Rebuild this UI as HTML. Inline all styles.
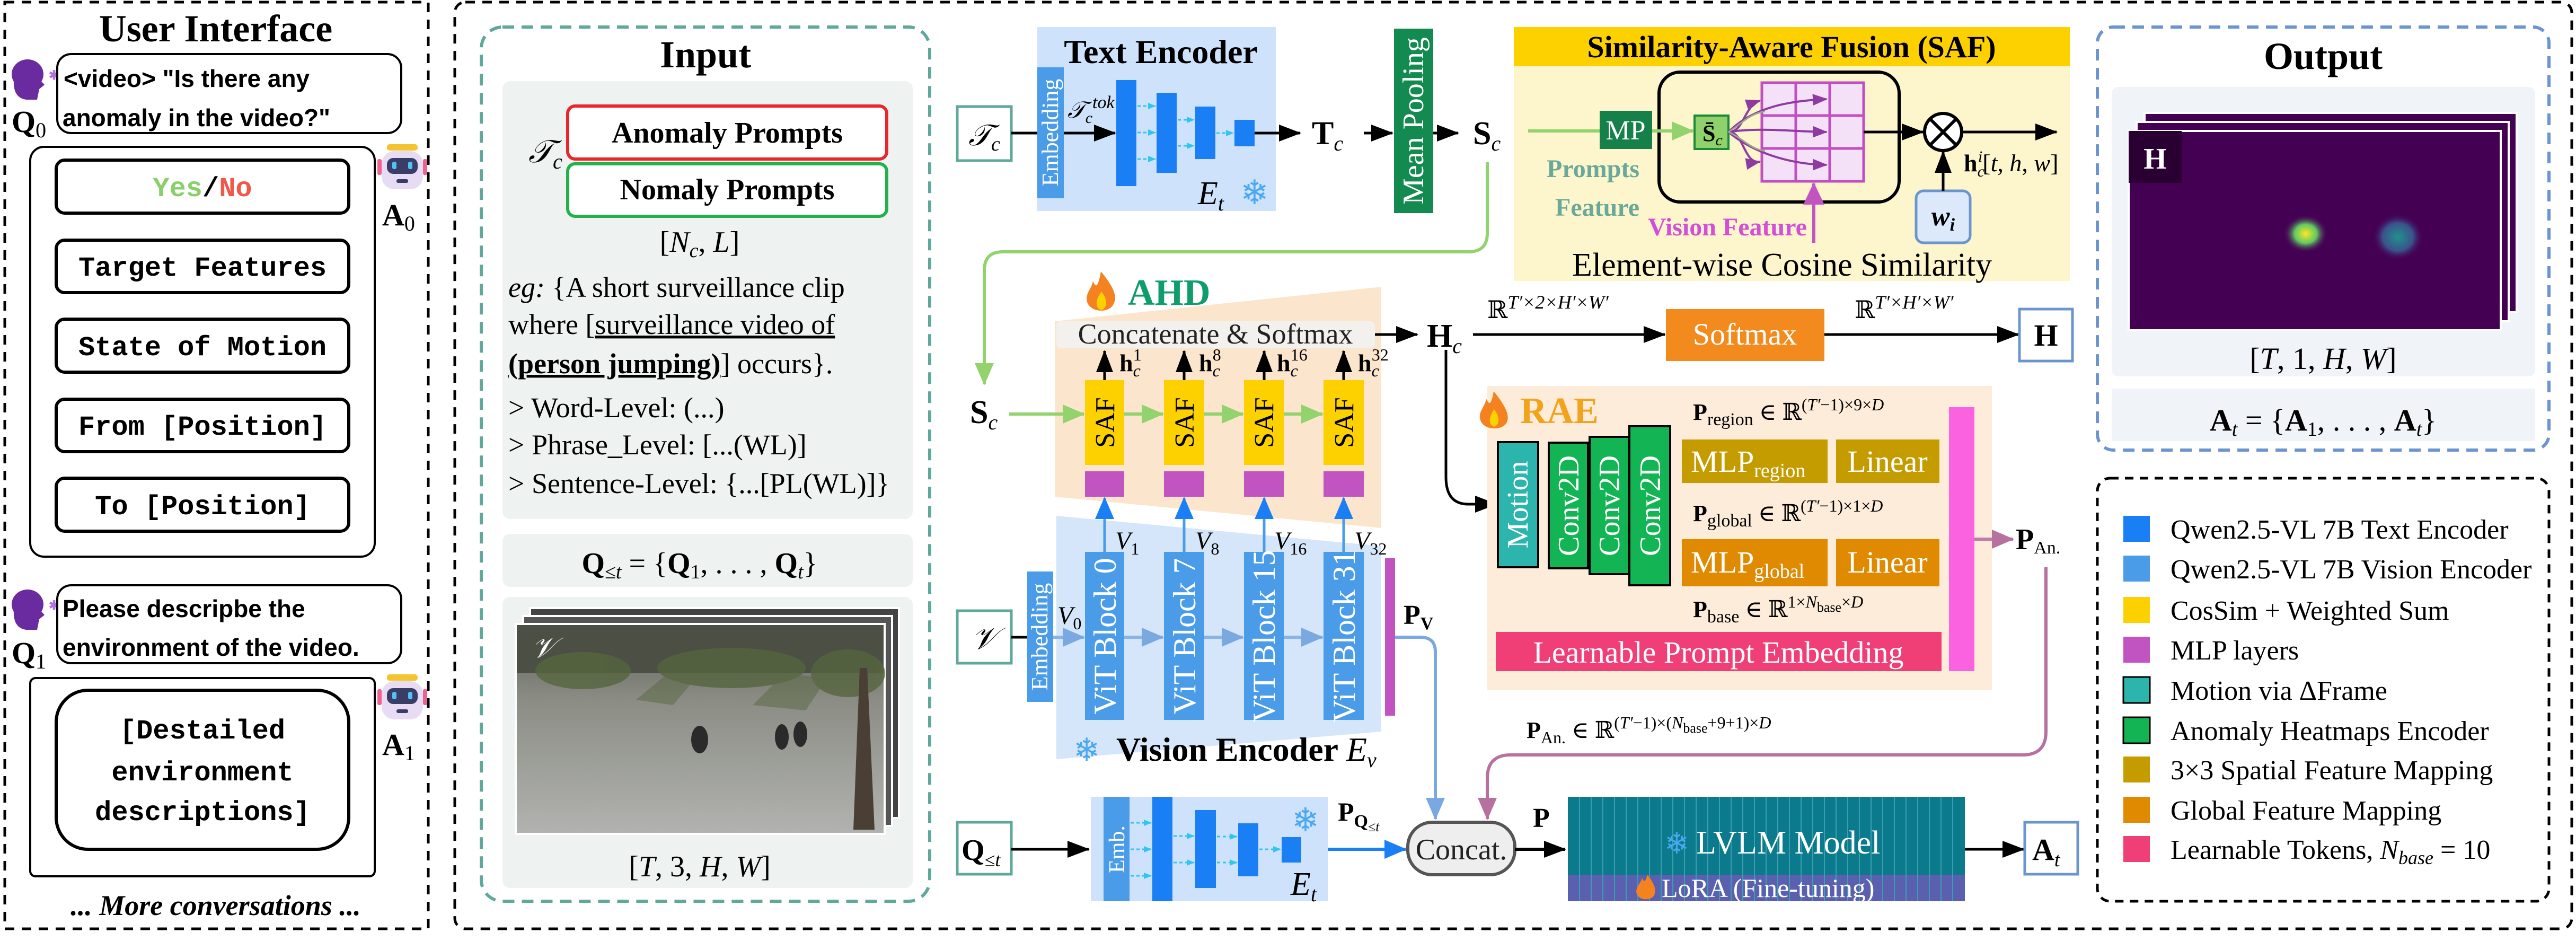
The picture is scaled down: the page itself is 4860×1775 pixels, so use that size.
<!DOCTYPE html>
<html><head><meta charset="utf-8"><style>
html,body{margin:0;padding:0;background:#fff}
svg{display:block}
text{font-family:"Liberation Serif","DejaVu Serif",serif}
.m, .m text, text.m{font-family:"Liberation Mono",monospace;font-weight:bold}
.c, text.c{font-family:"Liberation Sans","DejaVu Sans",sans-serif;font-weight:bold}
.b{font-weight:bold}
.i{font-style:italic}
</style></head><body>
<svg width="4860" height="1775" viewBox="0 0 4860 1775" xmlns="http://www.w3.org/2000/svg">
<defs>
<marker id="ak" markerUnits="userSpaceOnUse" markerWidth="44" markerHeight="36" refX="40" refY="18" orient="auto"><path d="M0,2 L42,18 L0,34 Z" fill="#000"/></marker>
<marker id="ag" markerUnits="userSpaceOnUse" markerWidth="44" markerHeight="40" refX="40" refY="20" orient="auto"><path d="M0,2 L42,20 L0,38 Z" fill="#92d36e"/></marker>
<marker id="ab" markerUnits="userSpaceOnUse" markerWidth="44" markerHeight="40" refX="40" refY="20" orient="auto"><path d="M0,2 L42,20 L0,38 Z" fill="#1a7ff5"/></marker>
<marker id="alb" markerUnits="userSpaceOnUse" markerWidth="44" markerHeight="40" refX="40" refY="20" orient="auto"><path d="M0,2 L42,20 L0,38 Z" fill="#7aa8e0"/></marker>
<marker id="ap" markerUnits="userSpaceOnUse" markerWidth="44" markerHeight="40" refX="40" refY="20" orient="auto"><path d="M0,2 L42,20 L0,38 Z" fill="#b8709f"/></marker>
<marker id="am" markerUnits="userSpaceOnUse" markerWidth="44" markerHeight="44" refX="40" refY="22" orient="auto"><path d="M0,2 L42,22 L0,42 Z" fill="#c254c2"/></marker>
<marker id="av" markerUnits="userSpaceOnUse" markerWidth="30" markerHeight="26" refX="26" refY="13" orient="auto"><path d="M0,2 L28,13 L0,24 Z" fill="#8e3aa0"/></marker>
<marker id="ac" markerUnits="userSpaceOnUse" markerWidth="16" markerHeight="14" refX="14" refY="7" orient="auto"><path d="M0,1 L15,7 L0,13 Z" fill="#2fc6f0"/></marker>
<linearGradient id="vid" x1="0" y1="0" x2="0" y2="1"><stop offset="0" stop-color="#5a5e55"/><stop offset="0.35" stop-color="#8a8c84"/><stop offset="1" stop-color="#b2b3b0"/></linearGradient>
<radialGradient id="bl1"><stop offset="0" stop-color="#fde725"/><stop offset="0.5" stop-color="#5ec962"/><stop offset="1" stop-color="#440154" stop-opacity="0"/></radialGradient>
<radialGradient id="bl2"><stop offset="0" stop-color="#21918c"/><stop offset="0.6" stop-color="#3b528b"/><stop offset="1" stop-color="#440154" stop-opacity="0"/></radialGradient>
</defs>

<!-- ================= USER INTERFACE ================= -->
<rect x="9" y="4" width="799" height="1748" fill="none" stroke="#000" stroke-width="5" stroke-dasharray="18,14"/>
<text x="407" y="78" font-size="72" text-anchor="middle" class="b">User Interface</text>

<g fill="#6a2aa0"><ellipse cx="52" cy="140" rx="30" ry="28"/><path d="M26,150 Q24,185 50,188 L70,188 L74,168 L84,160 L66,140 Z"/></g>
<text x="92" y="150" font-size="24" fill="#b070e0" class="b">✱</text>
<text x="22" y="249" font-size="58" class="b">Q<tspan font-size="40" font-weight="normal" dy="10">0</tspan></text>
<rect x="108" y="102" width="649" height="149" rx="26" fill="#fff" stroke="#000" stroke-width="4"/>
<text x="120" y="164" font-size="46" class="c">&lt;video&gt; "Is there any</text>
<text x="118" y="238" font-size="46" class="c">anomaly in the video?"</text>

<rect x="57" y="277" width="650" height="773" rx="26" fill="#fff" stroke="#000" stroke-width="4"/>
<g fill="#fff" stroke="#000" stroke-width="6">
<rect x="106" y="302" width="552" height="100" rx="16"/>
<rect x="106" y="453" width="552" height="99" rx="16"/>
<rect x="106" y="602" width="552" height="100" rx="16"/>
<rect x="106" y="753" width="552" height="99" rx="16"/>
<rect x="106" y="902" width="552" height="100" rx="16"/>
</g>
<g class="m" font-size="52" text-anchor="middle">
<text x="382" y="370"><tspan fill="#8acf6a">Yes</tspan>/<tspan fill="#f0584a">No</tspan></text>
<text x="382" y="520">Target Features</text>
<text x="382" y="670">State of Motion</text>
<text x="382" y="820">From [Position]</text>
<text x="382" y="970">To [Position]</text>
</g>
<g><rect x="730" y="272" width="58" height="12" rx="5" fill="#f4c430"/><rect x="720" y="285" width="78" height="72" rx="24" fill="#e8dcf5"/><rect x="730" y="298" width="58" height="30" rx="12" fill="#3a3d66"/><rect x="740" y="305" width="8" height="14" rx="3" fill="#4fc3f7"/><rect x="770" y="305" width="8" height="14" rx="3" fill="#4fc3f7"/><rect x="748" y="338" width="22" height="7" rx="3" fill="#3a3d66"/><rect x="712" y="300" width="8" height="30" rx="3" fill="#f06090"/><rect x="798" y="300" width="8" height="30" rx="3" fill="#f06090"/></g>
<text x="721" y="425" font-size="58" class="b">A<tspan font-size="40" font-weight="normal" dy="10">0</tspan></text>

<g fill="#6a2aa0"><ellipse cx="52" cy="1140" rx="30" ry="28"/><path d="M26,1150 Q24,1185 50,1188 L70,1188 L74,1168 L84,1160 L66,1140 Z"/></g>
<text x="92" y="1150" font-size="24" fill="#b070e0" class="b">✱</text>
<text x="22" y="1251" font-size="58" class="b">Q<tspan font-size="40" font-weight="normal" dy="10">1</tspan></text>
<rect x="108" y="1104" width="649" height="147" rx="26" fill="#fff" stroke="#000" stroke-width="4"/>
<text x="118" y="1164" font-size="46" class="c">Please descripbe the</text>
<text x="118" y="1237" font-size="46" class="c">environment of the video.</text>

<rect x="57" y="1279" width="650" height="374" rx="10" fill="#fff" stroke="#000" stroke-width="4"/>
<rect x="106" y="1302" width="552" height="300" rx="60" fill="#fff" stroke="#000" stroke-width="6"/>
<g class="m" font-size="52" text-anchor="middle">
<text x="382" y="1393">[Destailed</text>
<text x="382" y="1472">environment</text>
<text x="382" y="1547">descriptions]</text>
</g>
<g><rect x="730" y="1272" width="58" height="12" rx="5" fill="#f4c430"/><rect x="720" y="1285" width="78" height="72" rx="24" fill="#e8dcf5"/><rect x="730" y="1298" width="58" height="30" rx="12" fill="#3a3d66"/><rect x="740" y="1305" width="8" height="14" rx="3" fill="#4fc3f7"/><rect x="770" y="1305" width="8" height="14" rx="3" fill="#4fc3f7"/><rect x="748" y="1338" width="22" height="7" rx="3" fill="#3a3d66"/><rect x="712" y="1300" width="8" height="30" rx="3" fill="#f06090"/><rect x="798" y="1300" width="8" height="30" rx="3" fill="#f06090"/></g>
<text x="721" y="1424" font-size="58" class="b">A<tspan font-size="40" font-weight="normal" dy="10">1</tspan></text>
<text x="407" y="1726" font-size="54" text-anchor="middle" class="b i">... More conversations ...</text>

<!-- ================= MAIN PANEL ================= -->
<rect x="858" y="4" width="3994" height="1748" rx="20" fill="none" stroke="#000" stroke-width="5" stroke-dasharray="18,14"/>

<rect x="908" y="51" width="846" height="1649" rx="40" fill="none" stroke="#5fa89a" stroke-width="6" stroke-dasharray="22,14"/>
<text x="1331" y="127" font-size="72" text-anchor="middle" class="b">Input</text>
<rect x="948" y="153" width="774" height="826" rx="14" fill="#eef3f2"/>
<text x="997" y="306" font-size="60" class="i">𝒯<tspan font-size="40" dy="12">c</tspan></text>
<rect x="1071" y="200" width="602" height="100" rx="14" fill="#fff" stroke="#e8262b" stroke-width="6"/>
<rect x="1071" y="309" width="602" height="99" rx="14" fill="#fff" stroke="#22b14c" stroke-width="6"/>
<text x="1372" y="269" font-size="56" text-anchor="middle" class="b">Anomaly Prompts</text>
<text x="1372" y="376" font-size="56" text-anchor="middle" class="b">Nomaly Prompts</text>
<text x="1320" y="475" font-size="56" text-anchor="middle">[<tspan class="i">N</tspan><tspan class="i" font-size="38" dy="10">c</tspan><tspan dy="-10">, </tspan><tspan class="i">L</tspan>]</text>
<g font-size="54">
<text x="959" y="560"><tspan class="i">eg:</tspan> {A short surveillance clip</text>
<text x="959" y="630">where [<tspan text-decoration="underline">surveillance video of</tspan></text>
<text x="959" y="704"><tspan text-decoration="underline" class="b">(person jumping)</tspan>] occurs}.</text>
<text x="959" y="787">&gt; Word-Level: (...)</text>
<text x="959" y="857">&gt; Phrase_Level: [...(WL)]</text>
<text x="959" y="930">&gt; Sentence-Level: {...[PL(WL)]}</text>
</g>
<rect x="948" y="1007" width="774" height="100" rx="14" fill="#eef3f2"/>
<text x="1320" y="1081" font-size="56" text-anchor="middle"><tspan class="b">Q</tspan><tspan font-size="38" dy="10" class="i">≤t</tspan><tspan dy="-10"> = {</tspan><tspan class="b">Q</tspan><tspan font-size="38" dy="10">1</tspan><tspan dy="-10">, . . . , </tspan><tspan class="b">Q</tspan><tspan font-size="38" dy="10" class="i">t</tspan><tspan dy="-10">}</tspan></text>
<rect x="948" y="1126" width="774" height="549" rx="14" fill="#eef3f2"/>
<rect x="1000" y="1147" width="696" height="396" fill="#444" stroke="#fff" stroke-width="4"/>
<rect x="987" y="1162" width="696" height="396" fill="#555" stroke="#fff" stroke-width="4"/>
<rect x="973" y="1177" width="696" height="396" fill="url(#vid)" stroke="#fff" stroke-width="4"/>
<rect x="975" y="1179" width="692" height="90" fill="#4b4f44"/>
<g fill="#56653e" opacity="0.8">
<ellipse cx="1100" cy="1265" rx="90" ry="35"/><ellipse cx="1380" cy="1260" rx="140" ry="38"/><ellipse cx="1600" cy="1270" rx="70" ry="45"/>
<path d="M1200,1320 L1260,1270 L1320,1270 L1270,1330 Z" opacity="0.6"/><path d="M1420,1330 L1480,1270 L1560,1280 L1520,1340 Z" opacity="0.6"/>
</g>
<path d="M1610,1565 L1622,1260 L1636,1260 L1650,1565 Z" fill="#4a3f34"/>
<g fill="#2a2a2a"><ellipse cx="1320" cy="1395" rx="16" ry="26"/><ellipse cx="1475" cy="1390" rx="13" ry="24"/><ellipse cx="1510" cy="1385" rx="13" ry="24"/></g>
<text x="1003" y="1240" font-size="54" fill="#fff" class="i">𝒱</text>
<text x="1320" y="1653" font-size="56" text-anchor="middle">[<tspan class="i">T</tspan>, 3, <tspan class="i">H</tspan>, <tspan class="i">W</tspan>]</text>

<!-- TEXT ENCODER -->
<rect x="1806" y="201" width="102" height="102" fill="#fff" stroke="#5fa89a" stroke-width="5"/>
<text x="1857" y="274" font-size="56" text-anchor="middle" class="i">𝒯<tspan font-size="38" dy="10">c</tspan></text>
<rect x="1957" y="51" width="450" height="347" fill="#cfe2fb"/>
<text x="2190" y="119" font-size="64" text-anchor="middle" class="b">Text Encoder</text>
<rect x="1957" y="127" width="50" height="247" fill="#4a9be8"/>
<text transform="translate(1996,250) rotate(-90)" font-size="44" fill="#fff" text-anchor="middle">Embedding</text>
<line x1="1908" y1="251" x2="1957" y2="251" stroke="#000" stroke-width="5"/>
<line x1="2007" y1="251" x2="2104" y2="251" stroke="#000" stroke-width="5" marker-end="url(#ak)"/>
<text x="2014" y="222" font-size="44" class="i">𝒯<tspan font-size="30" dy="10">c</tspan><tspan font-size="34" dy="-28">tok</tspan></text>
<g fill="#1a7ff5"><rect x="2106" y="151" width="38" height="200"/><rect x="2182" y="175" width="38" height="151"/><rect x="2255" y="201" width="38" height="99"/><rect x="2329" y="226" width="38" height="50"/></g>
<g stroke="#2fc6f0" stroke-width="3" stroke-dasharray="6,5" marker-end="url(#ac)">
<line x1="2146" y1="200" x2="2180" y2="200"/><line x1="2146" y1="250" x2="2180" y2="250"/><line x1="2146" y1="300" x2="2180" y2="300"/>
<line x1="2222" y1="226" x2="2253" y2="226"/><line x1="2222" y1="275" x2="2253" y2="275"/>
<line x1="2295" y1="251" x2="2327" y2="251"/>
</g>
<text x="2260" y="385" font-size="62" class="i">E<tspan font-size="40" dy="12">t</tspan></text>
<text x="2340" y="385" font-size="64" fill="#4aa8f0">❄</text>
<line x1="2367" y1="251" x2="2453" y2="251" stroke="#000" stroke-width="5" marker-end="url(#ak)"/>
<text x="2475" y="272" font-size="62" class="b">T<tspan font-size="40" dy="12" class="i" font-weight="normal">c</tspan></text>
<line x1="2573" y1="251" x2="2627" y2="251" stroke="#000" stroke-width="5" marker-end="url(#ak)"/>
<rect x="2630" y="54" width="74" height="348" fill="#138a4f"/>
<text transform="translate(2685,228) rotate(-90)" font-size="56" fill="#fff" text-anchor="middle">Mean Pooling</text>
<line x1="2704" y1="251" x2="2751" y2="251" stroke="#000" stroke-width="5" marker-end="url(#ak)"/>
<text x="2779" y="272" font-size="62" class="b">S<tspan font-size="40" dy="12" class="i" font-weight="normal">c</tspan></text>
<path d="M2806,306 L2806,440 Q2806,475 2770,475 L1892,475 Q1857,475 1857,510 L1857,725" fill="none" stroke="#92d36e" stroke-width="6" marker-end="url(#ag)"/>

<!-- SAF PANEL -->
<rect x="2856" y="51" width="1049" height="479" fill="#fdf5cc"/>
<rect x="2856" y="51" width="1049" height="74" fill="#fdd000"/>
<text x="3380" y="108" font-size="58" text-anchor="middle" class="b">Similarity-Aware Fusion (SAF)</text>
<rect x="3130" y="136" width="453" height="245" rx="40" fill="none" stroke="#000" stroke-width="6"/>
<line x1="2883" y1="247" x2="3018" y2="247" stroke="#92d36e" stroke-width="6"/>
<rect x="3018" y="209" width="99" height="72" fill="#15804a"/>
<text x="3067" y="263" font-size="52" fill="#fff" text-anchor="middle">MP</text>
<line x1="3117" y1="247" x2="3194" y2="247" stroke="#92d36e" stroke-width="6" marker-end="url(#ag)"/>
<rect x="3197" y="218" width="64" height="63" fill="#8fd16a" stroke="#1a8a3a" stroke-width="4"/>
<text x="3212" y="266" font-size="44" class="b">S̄<tspan font-size="30" dy="8" class="i" font-weight="normal">c</tspan></text>
<g fill="#f5e1f7" stroke="#c04fc4" stroke-width="5">
<rect x="3324" y="156" width="64" height="62"/><rect x="3388" y="156" width="64" height="62"/><rect x="3452" y="156" width="64" height="62"/>
<rect x="3324" y="218" width="64" height="62"/><rect x="3388" y="218" width="64" height="62"/><rect x="3452" y="218" width="64" height="62"/>
<rect x="3324" y="280" width="64" height="62"/><rect x="3388" y="280" width="64" height="62"/><rect x="3452" y="280" width="64" height="62"/>
</g>
<g fill="none" stroke="#8e3aa0" stroke-width="4" marker-end="url(#av)">
<path d="M3261,249 C3290,250 3290,200 3320,190"/>
<path d="M3261,249 C3290,248 3290,310 3320,305"/>
<path d="M3261,249 C3310,200 3380,190 3446,187"/>
<path d="M3261,249 C3320,240 3380,248 3446,249"/>
<path d="M3261,249 C3310,290 3380,310 3446,311"/>
</g>
<g fill="none" stroke="#9aa88a" stroke-width="3"><path d="M3261,249 C3290,230 3300,215 3330,210"/><path d="M3261,249 C3290,262 3300,280 3330,285"/></g>
<line x1="3516" y1="249" x2="3628" y2="249" stroke="#000" stroke-width="5" marker-end="url(#ak)"/>
<circle cx="3666" cy="249" r="35" fill="#fff" stroke="#000" stroke-width="6"/>
<line x1="3641" y1="224" x2="3691" y2="274" stroke="#000" stroke-width="6"/><line x1="3691" y1="224" x2="3641" y2="274" stroke="#000" stroke-width="6"/>
<line x1="3701" y1="249" x2="3880" y2="249" stroke="#000" stroke-width="5" marker-end="url(#ak)"/>
<rect x="3615" y="360" width="102" height="98" rx="14" fill="#dce9fb" stroke="#6c95d0" stroke-width="5"/>
<text x="3666" y="425" font-size="52" text-anchor="middle" class="i b">w<tspan font-size="34" dy="10">i</tspan></text>
<line x1="3666" y1="360" x2="3666" y2="286" stroke="#000" stroke-width="5" marker-end="url(#ak)"/>
<text x="3705" y="323" font-size="46"><tspan class="b">h</tspan><tspan font-size="30" dy="10" class="i">c</tspan><tspan font-size="30" dy="-28" dx="-12" class="i">i</tspan><tspan dy="18">[</tspan><tspan class="i">t</tspan>, <tspan class="i">h</tspan>, <tspan class="i">w</tspan>]</text>
<text x="2918" y="334" font-size="48" fill="#6aa89a" class="b">Prompts</text>
<text x="2934" y="407" font-size="48" fill="#6aa89a" class="b">Feature</text>
<text x="3109" y="444" font-size="48" fill="#d44fd8" class="b">Vision Feature</text>
<line x1="3422" y1="458" x2="3422" y2="346" stroke="#c254c2" stroke-width="6" marker-end="url(#am)"/>
<text x="2966" y="520" font-size="62">Element-wise Cosine Similarity</text>

<!-- AHD -->
<path d="M2077,512 C2100,540 2110,560 2100,575 C2092,590 2060,590 2052,572 C2045,555 2060,545 2062,530 C2068,545 2072,540 2077,512 Z" fill="#f58220"/>
<path d="M2078,550 C2090,565 2090,580 2078,585 C2066,582 2066,565 2078,550 Z" fill="#fdd000"/>
<text x="2128" y="575" font-size="70" fill="#0f9d6b" class="b">AHD</text>
<polygon points="1990,606 2606,541 2606,996 1990,937" fill="#fce5cd"/>
<rect x="1993" y="606" width="601" height="51" rx="8" fill="#f3f1ee"/>
<text x="2293" y="648" font-size="54" text-anchor="middle" fill="#222">Concatenate &amp; Softmax</text>
<line x1="2594" y1="631" x2="2674" y2="631" stroke="#000" stroke-width="5" marker-end="url(#ak)"/>
<text x="2692" y="654" font-size="62" class="b">H<tspan font-size="40" dy="12" class="i" font-weight="normal">c</tspan></text>

<polygon points="1993,973 2606,1030 2606,1380 1993,1432" fill="#d6e6fa"/>
<g fill="#fdd000"><rect x="2047" y="717" width="74" height="160"/><rect x="2196" y="717" width="76" height="160"/><rect x="2347" y="717" width="75" height="160"/><rect x="2497" y="717" width="76" height="160"/></g>
<g fill="#c254c2"><rect x="2047" y="889" width="74" height="48"/><rect x="2196" y="889" width="76" height="48"/><rect x="2347" y="889" width="75" height="48"/><rect x="2497" y="889" width="76" height="48"/></g>
<g font-size="52" fill="#000" text-anchor="middle">
<text transform="translate(2102,797) rotate(-90)">SAF</text><text transform="translate(2252,797) rotate(-90)">SAF</text><text transform="translate(2402,797) rotate(-90)">SAF</text><text transform="translate(2553,797) rotate(-90)">SAF</text>
</g>
<g stroke="#000" stroke-width="5" marker-end="url(#ak)">
<line x1="2084" y1="717" x2="2084" y2="662"/><line x1="2234" y1="717" x2="2234" y2="662"/><line x1="2385" y1="717" x2="2385" y2="662"/><line x1="2535" y1="717" x2="2535" y2="662"/>
</g>
<g font-size="46">
<text x="2112" y="700"><tspan class="b">h</tspan><tspan class="i" font-size="32" dy="10">c</tspan><tspan font-size="32" dy="-30" dx="-14">1</tspan></text>
<text x="2262" y="700"><tspan class="b">h</tspan><tspan class="i" font-size="32" dy="10">c</tspan><tspan font-size="32" dy="-30" dx="-14">8</tspan></text>
<text x="2409" y="700"><tspan class="b">h</tspan><tspan class="i" font-size="32" dy="10">c</tspan><tspan font-size="32" dy="-30" dx="-14">16</tspan></text>
<text x="2562" y="700"><tspan class="b">h</tspan><tspan class="i" font-size="32" dy="10">c</tspan><tspan font-size="32" dy="-30" dx="-14">32</tspan></text>
</g>
<text x="1830" y="798" font-size="62" class="b">S<tspan font-size="40" dy="12" class="i" font-weight="normal">c</tspan></text>
<g stroke="#92d36e" stroke-width="6" marker-end="url(#ag)">
<line x1="1904" y1="781" x2="2045" y2="781"/><line x1="2121" y1="781" x2="2194" y2="781"/><line x1="2272" y1="781" x2="2345" y2="781"/><line x1="2422" y1="781" x2="2495" y2="781"/>
</g>

<g fill="#4a9be8"><rect x="2047" y="1041" width="74" height="317"/><rect x="2196" y="1041" width="76" height="317"/><rect x="2347" y="1041" width="75" height="317"/><rect x="2497" y="1041" width="76" height="317"/></g>
<g font-size="60" fill="#fff" text-anchor="middle">
<text transform="translate(2105,1200) rotate(-90)">ViT Block 0</text><text transform="translate(2255,1200) rotate(-90)">ViT Block 7</text><text transform="translate(2405,1200) rotate(-90)">ViT Block 15</text><text transform="translate(2556,1200) rotate(-90)">ViT Block 31</text>
</g>
<g stroke="#4a9be8" stroke-width="5" marker-end="url(#ab)">
<line x1="2084" y1="1041" x2="2084" y2="939"/><line x1="2234" y1="1041" x2="2234" y2="939"/><line x1="2385" y1="1041" x2="2385" y2="939"/><line x1="2535" y1="1041" x2="2535" y2="939"/>
</g>
<g font-size="48" class="i">
<text x="2104" y="1036">V<tspan font-size="32" dy="10" font-style="normal">1</tspan></text>
<text x="2255" y="1036">V<tspan font-size="32" dy="10" font-style="normal">8</tspan></text>
<text x="2404" y="1036">V<tspan font-size="32" dy="10" font-style="normal">16</tspan></text>
<text x="2555" y="1036">V<tspan font-size="32" dy="10" font-style="normal">32</tspan></text>
<text x="1995" y="1177">V<tspan font-size="32" dy="10" font-style="normal">0</tspan></text>
</g>
<g stroke="#8ab4e8" stroke-width="6" marker-end="url(#alb)">
<line x1="1987" y1="1202" x2="2045" y2="1202"/><line x1="2121" y1="1202" x2="2194" y2="1202"/><line x1="2272" y1="1202" x2="2345" y2="1202"/><line x1="2422" y1="1202" x2="2495" y2="1202"/>
</g>
<rect x="1806" y="1152" width="102" height="99" fill="#fff" stroke="#5fa89a" stroke-width="5"/>
<text x="1857" y="1224" font-size="58" text-anchor="middle" class="i">𝒱</text>
<line x1="1908" y1="1202" x2="1938" y2="1202" stroke="#000" stroke-width="5"/>
<rect x="1938" y="1078" width="49" height="246" fill="#4a9be8"/>
<text transform="translate(1976,1201) rotate(-90)" font-size="44" fill="#fff" text-anchor="middle">Embedding</text>
<rect x="2613" y="1053" width="19" height="297" fill="#c254c2"/>
<text x="2648" y="1177" font-size="52" class="b">P<tspan font-size="34" dy="10">V</tspan></text>
<path d="M2632,1202 L2680,1202 Q2708,1202 2708,1230 L2708,1545" fill="none" stroke="#7aa8e0" stroke-width="6" marker-end="url(#alb)"/>
<text x="2025" y="1435" font-size="60" fill="#4aa8f0">❄</text>
<text x="2106" y="1435" font-size="64" class="b">Vision Encoder <tspan class="i" font-weight="normal">E</tspan><tspan class="i" font-weight="normal" font-size="40" dy="12">v</tspan></text>

<!-- Bottom text encoder -->
<rect x="1806" y="1551" width="102" height="98" fill="#fff" stroke="#5fa89a" stroke-width="5"/>
<text x="1814" y="1622" font-size="56" class="b">Q<tspan font-size="36" dy="12" class="i" font-weight="normal">≤t</tspan></text>
<line x1="1908" y1="1602" x2="2054" y2="1602" stroke="#000" stroke-width="5" marker-end="url(#ak)"/>
<rect x="2058" y="1503" width="447" height="197" fill="#cfe2fb"/>
<rect x="2082" y="1503" width="49" height="197" fill="#4a9be8"/>
<text transform="translate(2121,1602) rotate(-90)" font-size="42" fill="#fff" text-anchor="middle">Emb.</text>
<g fill="#1a7ff5"><rect x="2174" y="1503" width="38" height="197"/><rect x="2255" y="1528" width="39" height="147"/><rect x="2336" y="1553" width="38" height="100"/><rect x="2418" y="1579" width="37" height="48"/></g>
<g stroke="#2fc6f0" stroke-width="3" stroke-dasharray="6,5" marker-end="url(#ac)">
<line x1="2133" y1="1552" x2="2172" y2="1552"/><line x1="2133" y1="1602" x2="2172" y2="1602"/><line x1="2133" y1="1652" x2="2172" y2="1652"/>
<line x1="2214" y1="1577" x2="2253" y2="1577"/><line x1="2214" y1="1627" x2="2253" y2="1627"/>
<line x1="2296" y1="1578" x2="2334" y2="1578"/><line x1="2296" y1="1627" x2="2334" y2="1627"/>
<line x1="2376" y1="1602" x2="2416" y2="1602"/>
</g>
<text x="2437" y="1568" font-size="62" fill="#4aa8f0">❄</text>
<text x="2435" y="1688" font-size="62" class="i">E<tspan font-size="40" dy="12">t</tspan></text>
<text x="2524" y="1548" font-size="50" class="b">P<tspan font-size="34" dy="12">Q<tspan font-size="26" dy="8" class="i" font-weight="normal">≤t</tspan></tspan></text>
<line x1="2505" y1="1602" x2="2652" y2="1602" stroke="#1a7ff5" stroke-width="6" marker-end="url(#ab)"/>
<rect x="2656" y="1551" width="202" height="99" rx="46" fill="#eeeeee" stroke="#555" stroke-width="6"/>
<text x="2757" y="1621" font-size="56" text-anchor="middle" fill="#222">Concat.</text>
<line x1="2858" y1="1602" x2="2953" y2="1602" stroke="#000" stroke-width="6" marker-end="url(#ak)"/>
<text x="2892" y="1560" font-size="52" class="b">P</text>

<!-- LVLM -->
<rect x="2958" y="1503" width="749" height="147" fill="#0a7a8c"/>
<rect x="2958" y="1650" width="749" height="50" fill="#5b5fb0"/>
<g stroke="#3aa0b0" stroke-width="2">
<line x1="2980" y1="1503" x2="2980" y2="1700"/><line x1="3002" y1="1503" x2="3002" y2="1700"/><line x1="3024" y1="1503" x2="3024" y2="1700"/><line x1="3046" y1="1503" x2="3046" y2="1700"/><line x1="3068" y1="1503" x2="3068" y2="1700"/><line x1="3090" y1="1503" x2="3090" y2="1700"/><line x1="3112" y1="1503" x2="3112" y2="1700"/><line x1="3134" y1="1503" x2="3134" y2="1700"/><line x1="3156" y1="1503" x2="3156" y2="1700"/><line x1="3178" y1="1503" x2="3178" y2="1700"/><line x1="3200" y1="1503" x2="3200" y2="1700"/><line x1="3222" y1="1503" x2="3222" y2="1700"/><line x1="3244" y1="1503" x2="3244" y2="1700"/><line x1="3266" y1="1503" x2="3266" y2="1700"/><line x1="3288" y1="1503" x2="3288" y2="1700"/><line x1="3310" y1="1503" x2="3310" y2="1700"/><line x1="3332" y1="1503" x2="3332" y2="1700"/><line x1="3354" y1="1503" x2="3354" y2="1700"/><line x1="3376" y1="1503" x2="3376" y2="1700"/><line x1="3398" y1="1503" x2="3398" y2="1700"/><line x1="3420" y1="1503" x2="3420" y2="1700"/><line x1="3442" y1="1503" x2="3442" y2="1700"/><line x1="3464" y1="1503" x2="3464" y2="1700"/><line x1="3486" y1="1503" x2="3486" y2="1700"/><line x1="3508" y1="1503" x2="3508" y2="1700"/><line x1="3530" y1="1503" x2="3530" y2="1700"/><line x1="3552" y1="1503" x2="3552" y2="1700"/><line x1="3574" y1="1503" x2="3574" y2="1700"/><line x1="3596" y1="1503" x2="3596" y2="1700"/><line x1="3618" y1="1503" x2="3618" y2="1700"/><line x1="3640" y1="1503" x2="3640" y2="1700"/><line x1="3662" y1="1503" x2="3662" y2="1700"/><line x1="3684" y1="1503" x2="3684" y2="1700"/>
</g>
<text x="3140" y="1610" font-size="56" fill="#4aa8f0">❄</text>
<text x="3200" y="1610" font-size="62" fill="#fff">LVLM Model</text>
<path d="M3108,1650 C3122,1668 3126,1680 3120,1690 C3112,1700 3092,1698 3088,1686 C3084,1674 3096,1666 3098,1656 C3102,1666 3105,1662 3108,1650 Z" fill="#f58220"/>
<text x="3135" y="1692" font-size="50" fill="#fff">LoRA (Fine-tuning)</text>
<line x1="3707" y1="1602" x2="3818" y2="1602" stroke="#000" stroke-width="5" marker-end="url(#ak)"/>
<rect x="3820" y="1551" width="100" height="98" fill="#fff" stroke="#6c95d0" stroke-width="5"/>
<text x="3834" y="1622" font-size="58" class="b">A<tspan font-size="38" dy="12" class="i" font-weight="normal">t</tspan></text>

<!-- Softmax path -->
<text x="2806" y="600" font-size="46">ℝ<tspan font-size="36" dy="-18" class="i">T′×2×H′×W′</tspan></text>
<line x1="2779" y1="631" x2="3141" y2="631" stroke="#000" stroke-width="5" marker-end="url(#ak)"/>
<rect x="3143" y="583" width="299" height="98" fill="#f28a1e"/>
<text x="3292" y="650" font-size="58" fill="#fff" text-anchor="middle">Softmax</text>
<text x="3499" y="600" font-size="46">ℝ<tspan font-size="36" dy="-18" class="i">T′×H′×W′</tspan></text>
<line x1="3442" y1="631" x2="3808" y2="631" stroke="#000" stroke-width="5" marker-end="url(#ak)"/>
<rect x="3810" y="583" width="100" height="98" fill="#fff" stroke="#6c95d0" stroke-width="5"/>
<text x="3860" y="652" font-size="58" text-anchor="middle" class="b">H</text>
<path d="M2728,660 L2728,900 Q2728,951 2770,951 L2823,951" fill="none" stroke="#000" stroke-width="5" marker-end="url(#ak)"/>

<!-- RAE -->
<rect x="2806" y="728" width="952" height="574" fill="#fdecd9"/>
<path d="M2818,738 C2840,765 2850,785 2842,798 C2834,812 2802,812 2794,795 C2786,778 2802,768 2804,752 C2810,766 2814,762 2818,738 Z" fill="#f58220"/>
<path d="M2819,772 C2830,787 2830,800 2819,805 C2808,802 2808,787 2819,772 Z" fill="#fdd000"/>
<text x="2868" y="798" font-size="70" fill="#f2a31b" class="b">RAE</text>
<rect x="2826" y="834" width="76" height="236" fill="#2bb5ad" stroke="#000" stroke-width="4"/>
<text transform="translate(2882,952) rotate(-90)" font-size="56" fill="#fff" text-anchor="middle">Motion</text>
<g fill="#13b454" stroke="#000" stroke-width="4">
<rect x="2922" y="835" width="74" height="237"/><rect x="2999" y="824" width="74" height="259"/><rect x="3074" y="804" width="77" height="300"/>
</g>
<g font-size="56" fill="#fff" text-anchor="middle">
<text transform="translate(2978,954) rotate(-90)">Conv2D</text><text transform="translate(3055,954) rotate(-90)">Conv2D</text><text transform="translate(3132,954) rotate(-90)">Conv2D</text>
</g>
<text x="3194" y="792" font-size="44"><tspan class="b">P</tspan><tspan font-size="34" dy="10">region</tspan><tspan dy="-10"> ∈ ℝ</tspan><tspan font-size="32" dy="-18">(<tspan class="i">T′</tspan>−1)×9×<tspan class="i">D</tspan></tspan></text>
<rect x="3173" y="829" width="275" height="82" fill="#c49c00"/>
<rect x="3464" y="829" width="195" height="82" fill="#c49c00"/>
<text x="3190" y="890" font-size="58" fill="#fff">MLP<tspan font-size="38" dy="10">region</tspan></text>
<text x="3561" y="890" font-size="58" fill="#fff" text-anchor="middle">Linear</text>
<text x="3194" y="983" font-size="44"><tspan class="b">P</tspan><tspan font-size="34" dy="10">global</tspan><tspan dy="-10"> ∈ ℝ</tspan><tspan font-size="32" dy="-18">(<tspan class="i">T′</tspan>−1)×1×<tspan class="i">D</tspan></tspan></text>
<rect x="3173" y="1017" width="275" height="89" fill="#df8a00"/>
<rect x="3464" y="1017" width="195" height="89" fill="#df8a00"/>
<text x="3190" y="1080" font-size="58" fill="#fff">MLP<tspan font-size="38" dy="10">global</tspan></text>
<text x="3561" y="1080" font-size="58" fill="#fff" text-anchor="middle">Linear</text>
<text x="3194" y="1164" font-size="44"><tspan class="b">P</tspan><tspan font-size="34" dy="10">base</tspan><tspan dy="-10"> ∈ ℝ</tspan><tspan font-size="32" dy="-18">1×<tspan class="i">N</tspan><tspan font-size="26" dy="8">base</tspan><tspan dy="-8">×</tspan><tspan class="i">D</tspan></tspan></text>
<rect x="2822" y="1192" width="841" height="74" fill="#ef3f76"/>
<text x="3242" y="1250" font-size="58" fill="#fff" text-anchor="middle">Learnable Prompt Embedding</text>
<rect x="3677" y="768" width="48" height="498" fill="#fb62e0"/>
<line x1="3725" y1="1017" x2="3798" y2="1017" stroke="#c07ba9" stroke-width="6" marker-end="url(#ap)"/>
<text x="3803" y="1036" font-size="56" class="b">P<tspan font-size="34" dy="8" font-weight="normal">An.</tspan></text>
<path d="M3860,1070 L3860,1380 Q3860,1424 3816,1424 L2850,1424 Q2806,1424 2806,1468 L2806,1545" fill="none" stroke="#b8709f" stroke-width="6" marker-end="url(#ap)"/>
<text x="2880" y="1392" font-size="44"><tspan class="b">P</tspan><tspan font-size="32" dy="10">An.</tspan><tspan dy="-10"> ∈ ℝ</tspan><tspan font-size="32" dy="-18">(<tspan class="i">T′</tspan>−1)×(<tspan class="i">N</tspan><tspan font-size="26" dy="8">base</tspan><tspan dy="-8">+9+1)×</tspan><tspan class="i">D</tspan></tspan></text>

<!-- OUTPUT -->
<rect x="3957" y="51" width="852" height="798" rx="30" fill="none" stroke="#6c95d0" stroke-width="6" stroke-dasharray="22,14"/>
<text x="4383" y="130" font-size="72" text-anchor="middle" class="b">Output</text>
<rect x="3984" y="164" width="799" height="546" rx="12" fill="#f0f3f7"/>
<rect x="4046" y="213" width="702" height="376" fill="#440154" stroke="#fff" stroke-width="4"/>
<rect x="4031" y="230" width="702" height="376" fill="#440154" stroke="#fff" stroke-width="4"/>
<rect x="4016" y="247" width="702" height="376" fill="#440154" stroke="#fff" stroke-width="4"/>
<rect x="4016" y="247" width="100" height="98" fill="#2a0033"/>
<text x="4066" y="318" font-size="56" fill="#fff" text-anchor="middle" class="b">H</text>
<ellipse cx="4350" cy="441" rx="42" ry="36" fill="url(#bl1)"/>
<ellipse cx="4524" cy="447" rx="48" ry="44" fill="url(#bl2)"/>
<text x="4383" y="696" font-size="58" text-anchor="middle">[<tspan class="i">T</tspan>, 1, <tspan class="i">H</tspan>, <tspan class="i">W</tspan>]</text>
<rect x="3984" y="733" width="799" height="99" fill="#f0f3f7"/>
<text x="4383" y="812" font-size="58" text-anchor="middle"><tspan class="b">A</tspan><tspan font-size="38" dy="10" class="i">t</tspan><tspan dy="-10"> = {</tspan><tspan class="b">A</tspan><tspan font-size="38" dy="10">1</tspan><tspan dy="-10">, . . . , </tspan><tspan class="b">A</tspan><tspan font-size="38" dy="10" class="i">t</tspan><tspan dy="-10">}</tspan></text>

<!-- Legend -->
<rect x="3957" y="902" width="852" height="798" rx="24" fill="none" stroke="#000" stroke-width="5" stroke-dasharray="16,12"/>
<rect x="4006" y="973" width="50" height="49" fill="#1a7ff5"/>
<rect x="4006" y="1048" width="50" height="49" fill="#4a9be8"/>
<rect x="4006" y="1126" width="50" height="49" fill="#fdd000"/>
<rect x="4006" y="1201" width="50" height="49" fill="#c254c2"/>
<rect x="4006" y="1277" width="50" height="49" fill="#2bb5ad" stroke="#000" stroke-width="3"/>
<rect x="4006" y="1353" width="50" height="49" fill="#13b454" stroke="#000" stroke-width="3"/>
<rect x="4006" y="1427" width="50" height="49" fill="#c49c00"/>
<rect x="4006" y="1503" width="50" height="49" fill="#df8a00"/>
<rect x="4006" y="1577" width="50" height="49" fill="#ef3f76"/>
<g font-size="52">
<text x="4095" y="1016">Qwen2.5-VL 7B Text Encoder</text>
<text x="4095" y="1091">Qwen2.5-VL 7B Vision Encoder</text>
<text x="4095" y="1169">CosSim + Weighted Sum</text>
<text x="4095" y="1244">MLP layers</text>
<text x="4095" y="1320">Motion via ΔFrame</text>
<text x="4095" y="1396">Anomaly Heatmaps Encoder</text>
<text x="4095" y="1470">3×3 Spatial Feature Mapping</text>
<text x="4095" y="1546">Global Feature Mapping</text>
<text x="4095" y="1620">Learnable Tokens, <tspan class="i">N</tspan><tspan class="i" font-size="36" dy="10">base</tspan><tspan dy="-10"> = 10</tspan></text>
</g>
</svg>
</body></html>
